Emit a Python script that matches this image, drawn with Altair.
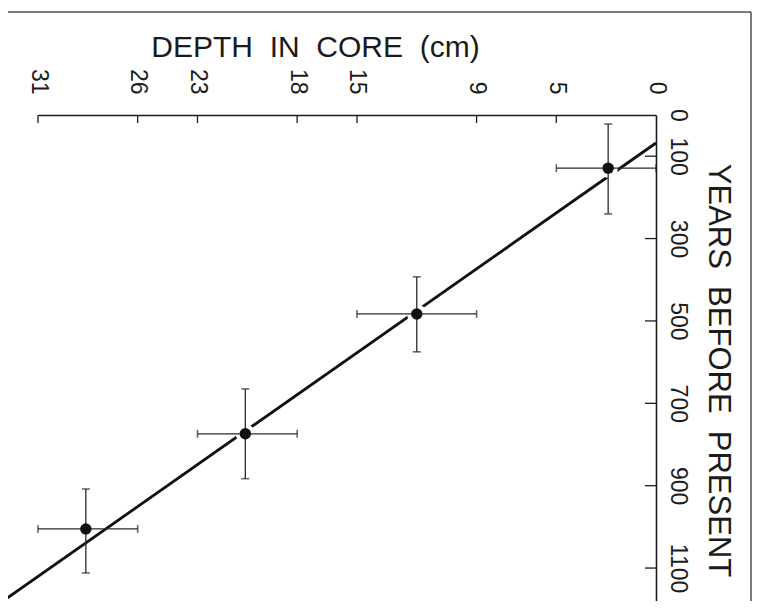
import altair as alt
import pandas as pd

# axis tick labels
depth_ticks = [0, 5, 9, 15, 18, 23, 26, 31]          # cm
year_ticks = [0, 100, 300, 500, 700, 900, 1100]      # years before present

# dated samples: depth midpoint + sampled interval, age + error range
depth = [2.4, 12.0, 20.6, 28.6]
depth_lo = [0, 9, 18, 26]
depth_hi = [5, 15, 23, 31]
years = [129, 483, 774, 1005]
years_lo = [22, 393, 665, 908]
years_hi = [240, 575, 883, 1112]

# fitted age-depth line, read at its two ends
fit_depth = [0, 32.9]
fit_years = [68, 1185]

W, H = 618, 486
INK = "#1b1b1b"
FONT = "Liberation Sans"
SP = "\u00a0\u00a0"

samples = pd.DataFrame({
    "depth": depth, "depth_lo": depth_lo, "depth_hi": depth_hi,
    "years": years, "years_lo": years_lo, "years_hi": years_hi,
})
fit = pd.DataFrame({"depth": fit_depth, "years": fit_years})
xt = pd.DataFrame({"depth": depth_ticks[1:]})
yt = pd.DataFrame({"years": year_ticks[1:]})
one = pd.DataFrame({"k": [0]})

xs = alt.Scale(domain=[0, 31], reverse=True, nice=False, zero=False)
ys = alt.Scale(domain=[0, 1180], reverse=True, nice=False, zero=False)

x_axis = alt.Axis(
    orient="top", values=depth_ticks, format="d", ticks=False, tickSize=0, grid=False,
    domainColor=INK, domainWidth=1.6,
    labelAngle=90, labelAlign="right", labelBaseline="middle", labelPadding=21,
    labelFontSize=23, labelFont=FONT, labelColor=INK,
    labelFlush=False, labelOverlap=False,
    title=SP.join(["DEPTH", "IN", "CORE", "(cm)"]), titleFont=FONT, titleFontSize=30,
    titleFontWeight="normal", titleColor=INK,
    titleAlign="center", titleBaseline="alphabetic", titleX=277, titleY=-59,
)
y_axis = alt.Axis(
    orient="right", values=year_ticks, format="d", ticks=False, tickSize=0, grid=False,
    domainColor=INK, domainWidth=1.6,
    labelAngle=90, labelAlign="center", labelBaseline="alphabetic", labelPadding=14,
    labelFontSize=23, labelFont=FONT, labelColor=INK,
    labelFlush=False, labelOverlap=False,
    title=SP.join(["YEARS", "BEFORE", "PRESENT"]), titleFont=FONT, titleFontSize=31,
    titleFontWeight="normal", titleColor=INK, titleAngle=90,
    titleAlign="center", titleBaseline="alphabetic", titleX=52, titleY=255,
)


def X(f):
    return alt.X(f + ":Q", scale=xs, axis=x_axis)


def Y(f):
    return alt.Y(f + ":Q", scale=ys, axis=y_axis)


line = alt.Chart(fit).mark_line(color="#111", strokeWidth=2.8).encode(
    x=X("depth"), y=Y("years"))

base = alt.Chart(samples)
halo = base.mark_circle(color="white", size=380, opacity=1).encode(x=X("depth"), y=Y("years"))
vbar = base.mark_rule(color="#2a2a2a", strokeWidth=1.3).encode(
    x=X("depth"), y=Y("years_lo"), y2=alt.Y2("years_hi"))
hbar = base.mark_rule(color="#2a2a2a", strokeWidth=1.3).encode(
    y=Y("years"), x=X("depth_lo"), x2=alt.X2("depth_hi"))
cap_t = base.mark_tick(orient="horizontal", size=8, thickness=1.6, color="#2a2a2a").encode(
    x=X("depth"), y=Y("years_lo"))
cap_b = base.mark_tick(orient="horizontal", size=8, thickness=1.6, color="#2a2a2a").encode(
    x=X("depth"), y=Y("years_hi"))
cap_l = base.mark_tick(orient="vertical", size=8, thickness=1.6, color="#2a2a2a").encode(
    x=X("depth_lo"), y=Y("years"))
cap_r = base.mark_tick(orient="vertical", size=8, thickness=1.6, color="#2a2a2a").encode(
    x=X("depth_hi"), y=Y("years"))
pts = base.mark_circle(color="#111", size=130, opacity=1).encode(x=X("depth"), y=Y("years"))

xticks = alt.Chart(xt).mark_rule(color=INK, strokeWidth=1.3).encode(
    x=X("depth"), y=alt.value(0), y2=alt.value(8))
yticks = alt.Chart(yt).mark_rule(color=INK, strokeWidth=1.3).encode(
    y=Y("years"), x=alt.value(W - 11), x2=alt.value(W))

frame_top = alt.Chart(one).mark_rule(color="#4d4d55", strokeWidth=1.5).encode(
    x=alt.value(-30), x2=alt.value(713), y=alt.value(-103))
frame_right = alt.Chart(one).mark_rule(color="#4d4d55", strokeWidth=1.5).encode(
    x=alt.value(713), y=alt.value(-103), y2=alt.value(H))

chart = alt.layer(
    line, halo, vbar, hbar, cap_t, cap_b, cap_l, cap_r, pts,
    xticks, yticks, frame_top, frame_right,
).properties(
    width=W, height=H,
    padding={"left": 30, "top": 107, "right": 96, "bottom": 0},
    autosize=alt.AutoSizeParams(type="none"),
    background="white",
).configure_view(stroke=None)

chart.save("out.html", embed_options={"renderer": "svg", "actions": False})
